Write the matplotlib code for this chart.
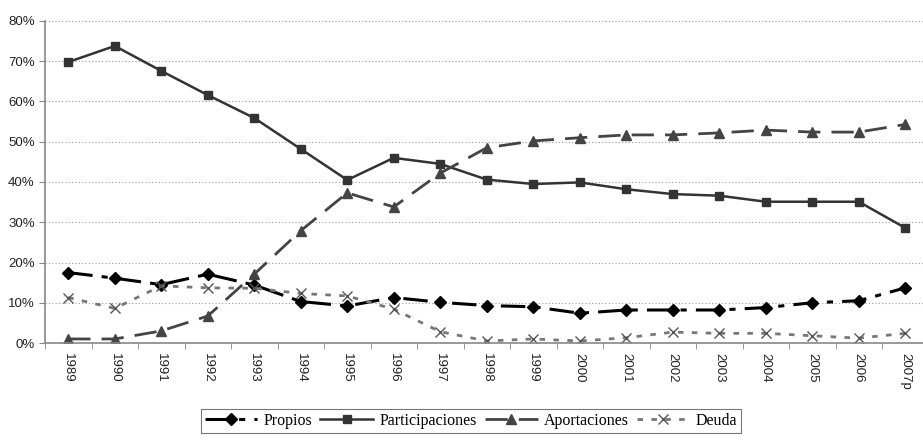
import numpy as np
import matplotlib
matplotlib.use("Agg")
import matplotlib.pyplot as plt
from matplotlib.ticker import FuncFormatter, MultipleLocator

plt.rcParams["font.family"] = ["Liberation Serif", "DejaVu Serif"]

years = ["1989", "1990", "1991", "1992", "1993", "1994", "1995", "1996", "1997", "1998",
         "1999", "2000", "2001", "2002", "2003", "2004", "2005", "2006", "2007p"]
propios = [17.5, 16.1, 14.5, 17.1, 14.4, 10.3, 9.2, 11.3, 10.1, 9.3,
           9.0, 7.4, 8.2, 8.2, 8.2, 8.8, 10.0, 10.5, 13.7]
participaciones = [69.8, 73.8, 67.6, 61.6, 55.9, 48.2, 40.5, 46.0, 44.5, 40.6,
                   39.5, 39.9, 38.2, 37.0, 36.6, 35.1, 35.1, 35.1, 28.6]
aportaciones = [1.0, 1.0, 3.0, 6.7, 17.1, 27.9, 37.3, 33.8, 42.2, 48.5,
                50.2, 51.0, 51.7, 51.7, 52.2, 52.9, 52.4, 52.4, 54.3]
deuda = [11.3, 8.6, 14.2, 13.7, 13.6, 12.3, 11.7, 8.4, 2.8, 0.5,
         1.0, 0.5, 1.3, 2.7, 2.4, 2.4, 1.8, 1.2, 2.4]

x = np.arange(len(years))

fig = plt.figure(figsize=(9.23, 4.4), dpi=100)
ax = fig.add_axes([45 / 923, 97 / 440, 883.5 / 923, 322 / 440])

ax.plot(x, propios, color="black", linewidth=2.2, dashes=(8, 3, 2, 3),
        marker="D", markersize=6, label="Propios")
ax.plot(x, participaciones, color="#333333", linewidth=1.8, linestyle="-",
        marker="s", markersize=6, label="Participaciones")
ax.plot(x, aportaciones, color="#444444", linewidth=2.0, dashes=(8, 4),
        marker="^", markersize=7, label="Aportaciones")
ax.plot(x, deuda, color="#777777", linewidth=2.0, dashes=(2, 3),
        marker="x", markersize=7, markeredgewidth=1.0, markeredgecolor="#555555",
        label="Deuda")

ax.set_xlim(-0.5, len(years) - 0.5)
ax.set_ylim(0, 80)
ax.yaxis.set_major_locator(MultipleLocator(10))
ax.yaxis.set_major_formatter(FuncFormatter(lambda v, p: f"{v:.0f}%"))
ax.grid(axis="y", color="#999999", linestyle=(0, (1, 2)), linewidth=0.8)

sans = ["Liberation Sans Narrow", "Liberation Sans", "DejaVu Sans"]
ax.set_xticks(x)
ax.set_xticklabels(years, rotation=270, fontsize=9.5, family=sans, color="#222222")
for lab in ax.get_yticklabels():
    lab.set_family(["Liberation Sans", "DejaVu Sans"])
ax.set_xticks(np.arange(-0.5, len(years), 1), minor=True)
ax.tick_params(axis="x", which="major", length=0, pad=7)
ax.tick_params(axis="x", which="minor", length=4, color="#888888")
ax.tick_params(axis="y", length=4, color="#888888", labelsize=9.5, labelcolor="#222222")

for side in ["top", "right"]:
    ax.spines[side].set_visible(False)
for side in ["left", "bottom"]:
    ax.spines[side].set_color("#888888")
    ax.spines[side].set_linewidth(1.2)

leg = fig.legend(loc="center", bbox_to_anchor=(471 / 923, 1 - 421 / 440), ncol=4,
                 frameon=True, fancybox=False, edgecolor="#555555", fontsize=11.5,
                 handlelength=3.3, columnspacing=0.5, handletextpad=0.4,
                 borderpad=0.25)
leg.get_frame().set_linewidth(0.8)

fig.savefig("out.png", dpi=100)
